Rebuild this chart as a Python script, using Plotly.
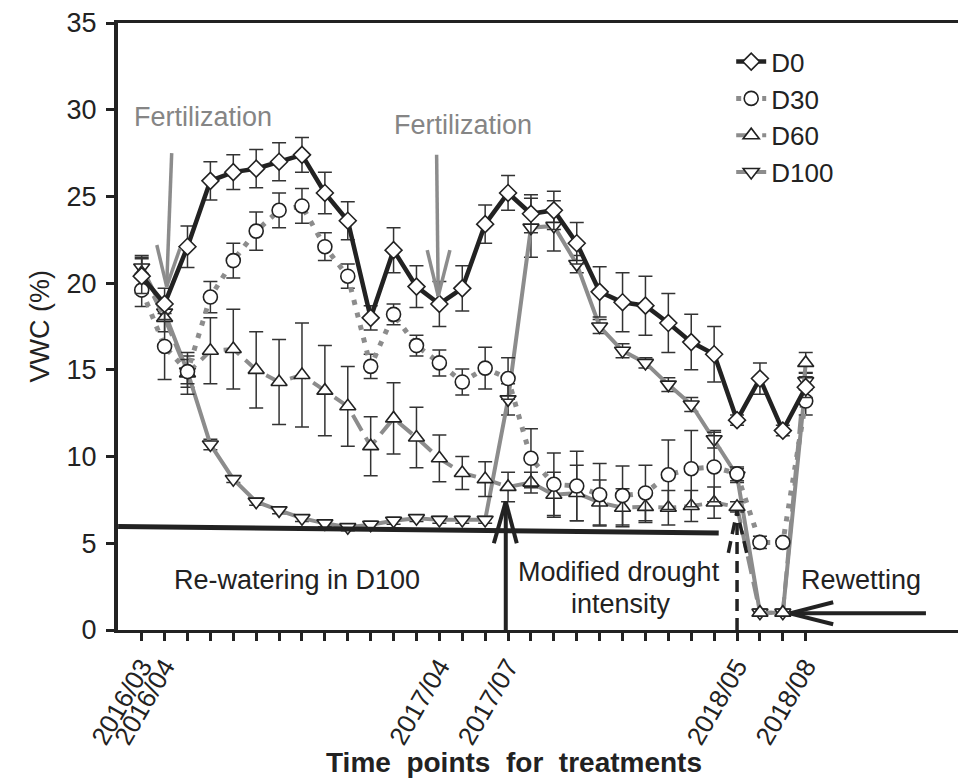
import plotly.graph_objects as go

# ---------------- data ----------------
time_index = list(range(30))
label_points = {0: "2016/03", 1: "2016/04", 13: "2017/04", 16: "2017/07", 26: "2018/05", 29: "2018/08"}
tick_text = [label_points.get(i, "") for i in time_index]

d0 = [20.4, 18.8, 22.1, 25.9, 26.4, 26.6, 27.0, 27.4, 25.2, 23.6,
      18.0, 21.9, 19.8, 18.8, 19.7, 23.4, 25.2, 24.0, 24.2, 22.3,
      19.5, 18.9, 18.7, 17.7, 16.6, 15.9, 12.1, 14.5, 11.5, 14.0]
d0_err = [1.0, 0.9, 1.2, 1.1, 1.0, 1.1, 1.1, 1.0, 1.2, 1.1,
          0.7, 1.3, 1.2, 1.3, 1.3, 1.1, 1.0, 1.1, 1.1, 1.2,
          1.45, 1.7, 1.7, 1.7, 1.6, 1.6, 0.3, 0.9, 0.3, 0.6]

d30 = [19.6, 16.35, 14.9, 19.2, 21.3, 23.0, 24.2, 24.45, 22.1, 20.4,
       15.2, 18.2, 16.4, 15.4, 14.3, 15.1, 14.5, 9.9, 8.4, 8.3,
       7.8, 7.75, 7.9, 8.95, 9.3, 9.4, 9.0, 5.05, 5.05, 13.2]
d30_err = [0.95, 1.9, 0.7, 0.9, 1.0, 1.1, 1.0, 1.0, 0.8, 0.7,
           0.7, 0.6, 0.6, 0.75, 0.75, 1.2, 1.2, 1.7, 1.8, 2.0,
           1.8, 1.7, 1.6, 2.0, 2.2, 2.0, 0.4, 0.35, 0.2, 0.8]

d60 = [20.6, 18.0, 14.8, 16.1, 16.2, 15.0, 14.3, 14.7, 13.8, 12.9,
       10.6, 12.2, 11.1, 9.9, 9.05, 8.7, 8.25, 8.5, 7.8, 7.9,
       7.35, 7.05, 7.1, 7.05, 7.15, 7.35, 7.1, 1.0, 1.0, 15.4]
d60_err = [1.0, 0.8, 1.2, 1.9, 2.3, 2.2, 2.45, 3.0, 2.6, 2.3,
           1.7, 2.05, 1.75, 1.35, 0.95, 1.0, 0.85, 0.6, 1.3, 1.6,
           1.3, 1.1, 0.9, 1.0, 0.9, 0.9, 0.3, 0.2, 0.2, 0.6]

d100 = [20.9, 18.3, 14.9, 10.7, 8.7, 7.4, 6.9, 6.45, 6.15, 5.93,
        6.07, 6.3, 6.45, 6.35, 6.35, 6.35, 13.3, 23.2, 23.3, 21.1,
        17.5, 16.1, 15.4, 14.15, 13.0, 11.0, 8.9, 1.0, 1.0, 14.35]
d100_err = [0.6, 0.5, 0.9, 0.3, 0.2, 0.2, 0.2, 0.2, 0.2, 0.2,
            0.2, 0.2, 0.2, 0.2, 0.2, 0.2, 0.9, 1.7, 1.45, 0.5,
            0.4, 0.4, 0.3, 0.4, 0.4, 0.5, 0.4, 0.2, 0.2, 0.5]

# ---------------- styling ----------------
FONT = "Liberation Sans, Arial, sans-serif"
BLACK = "#222222"
GRAY = "#8c8c8c"
ERRC = "#333333"

def err(vals):
    return dict(type="data", array=vals, visible=True, color=ERRC, thickness=1.5, width=7)

fig = go.Figure()

fig.add_trace(go.Scatter(
    x=time_index, y=d100, name="D100", mode="lines+markers", legendrank=4,
    line=dict(color=GRAY, width=4),
    marker=dict(symbol="triangle-down", size=14, color="white", line=dict(color=BLACK, width=1.6)),
    error_y=err(d100_err)))
fig.add_trace(go.Scatter(
    x=time_index, y=d60, name="D60", mode="lines+markers", legendrank=3,
    line=dict(color=GRAY, width=4, dash="18px,8px"),
    marker=dict(symbol="triangle-up", size=14, color="white", line=dict(color=BLACK, width=1.6)),
    error_y=err(d60_err)))
fig.add_trace(go.Scatter(
    x=time_index, y=d30, name="D30", mode="lines+markers", legendrank=2,
    line=dict(color=GRAY, width=5, dash="5px,8px"),
    marker=dict(symbol="circle", size=14, color="white", line=dict(color=BLACK, width=1.6)),
    error_y=err(d30_err)))
fig.add_trace(go.Scatter(
    x=time_index, y=d0, name="D0", mode="lines+markers", legendrank=1,
    line=dict(color=BLACK, width=4.5),
    marker=dict(symbol="diamond", size=13, color="white", line=dict(color=BLACK, width=1.6)),
    error_y=err(d0_err)))

# ---------------- annotation shapes ----------------
shapes = []

def seg(x0, y0, x1, y1, color, width, dash="solid"):
    shapes.append(dict(type="line", xref="x", yref="y", x0=x0, y0=y0, x1=x1, y1=y1,
                       line=dict(color=color, width=width, dash=dash), layer="above"))

def arrow(tail, tip, wing1, wing2, color, width, dash="solid"):
    seg(tail[0], tail[1], tip[0], tip[1], color, width, dash)
    seg(wing1[0], wing1[1], tip[0], tip[1], color, width, dash)
    seg(wing2[0], wing2[1], tip[0], tip[1], color, width, dash)

# Fertilization arrows (gray)
arrow((1.31, 27.5), (1.09, 19.8), (0.66, 22.2), (1.67, 22.0), GRAY, 3.5)
arrow((12.88, 27.4), (12.95, 19.25), (12.47, 21.9), (13.46, 21.9), GRAY, 3.5)
# Re-watering baseline
seg(-1.03, 5.97, 25.2, 5.6, BLACK, 5)
# Modified drought intensity arrow
arrow((15.9, 0), (15.9, 7.4), (15.38, 5.0), (16.38, 5.0), BLACK, 4)
# dashed arrow at 2018/05
arrow((26.0, 0), (26.0, 6.85), (25.62, 4.45), (26.42, 4.45), BLACK, 3.5, dash="12px,7px")
# Rewetting arrow
arrow((34.25, 0.96), (28.3, 0.96), (30.2, 1.6), (30.2, 0.33), BLACK, 4)

annotations = [
    dict(text="Fertilization", x=2.66, y=29.6, xref="x", yref="y", showarrow=False,
         font=dict(family=FONT, size=27, color="#858585")),
    dict(text="Fertilization", x=14.03, y=29.1, xref="x", yref="y", showarrow=False,
         font=dict(family=FONT, size=27, color="#858585")),
    dict(text="Re-watering in D100", x=6.8, y=2.9, xref="x", yref="y", showarrow=False,
         font=dict(family=FONT, size=27, color=BLACK)),
    dict(text="Modified drought", x=20.85, y=3.35, xref="x", yref="y", showarrow=False,
         font=dict(family=FONT, size=27, color=BLACK)),
    dict(text="intensity", x=20.95, y=1.5, xref="x", yref="y", showarrow=False,
         font=dict(family=FONT, size=27, color=BLACK)),
    dict(text="Rewetting", x=31.4, y=2.9, xref="x", yref="y", showarrow=False,
         font=dict(family=FONT, size=27, color=BLACK)),
    dict(text="<b>Time\u00a0\u00a0points\u00a0\u00a0for\u00a0\u00a0treatments</b>", x=0.4714, y=-0.219,
         xref="paper", yref="paper", showarrow=False, xanchor="center", yanchor="middle",
         font=dict(family=FONT, size=28, color=BLACK)),
    dict(text="VWC (%)", x=-0.0929, y=0.5, xref="paper", yref="paper", showarrow=False,
         textangle=-90, xanchor="center", yanchor="middle",
         font=dict(family=FONT, size=27, color=BLACK)),
]

fig.update_layout(
    width=958, height=779,
    margin=dict(l=118, r=0, t=23, b=149),
    paper_bgcolor="white", plot_bgcolor="white",
    font=dict(family=FONT, color=BLACK),
    shapes=shapes, annotations=annotations,
    legend=dict(x=0.73, y=0.975, xanchor="left", yanchor="top", bgcolor="rgba(0,0,0,0)",
                font=dict(family=FONT, size=26, color=BLACK), tracegroupgap=0),
    xaxis=dict(range=[-1.035, 35.65], tickmode="array", tickvals=time_index, ticktext=tick_text,
               tickangle=-60, ticks="outside", ticklen=8, tickwidth=3, tickcolor=BLACK,
               showline=True, linewidth=3, linecolor=BLACK, mirror=True,
               showgrid=False, zeroline=False, tickfont=dict(family=FONT, size=26, color=BLACK)),
    yaxis=dict(range=[0, 35], tickmode="array", tickvals=[0, 5, 10, 15, 20, 25, 30, 35],
               ticks="outside", ticklen=8, tickwidth=3, tickcolor=BLACK, ticklabelstandoff=4,
               showline=True, linewidth=4, linecolor=BLACK,
               showgrid=False, zeroline=False, tickfont=dict(family=FONT, size=27, color=BLACK)),
)

fig.write_html("out.html")
